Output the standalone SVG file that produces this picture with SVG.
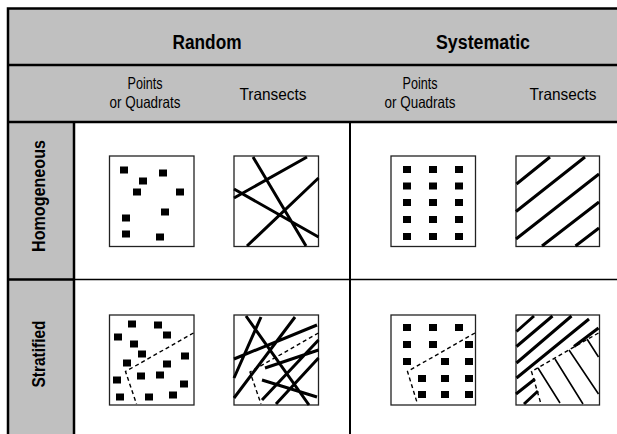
<svg xmlns="http://www.w3.org/2000/svg" width="617" height="434" viewBox="0 0 617 434">
<style>
.hdr{font-family:"Liberation Sans Narrow","Liberation Sans",sans-serif;font-weight:bold;fill:#000}
.sub{font-family:"Liberation Sans Narrow","Liberation Sans",sans-serif;fill:#000}
.box{fill:#fff;stroke:#222;stroke-width:1.3}
.tr{stroke:#000;stroke-width:3;fill:none}
.thin{stroke:#000;stroke-width:1.6;fill:none}
.dash{stroke:#000;stroke-width:1.4;fill:none;stroke-dasharray:4 3}
.grid{stroke:#000;fill:none}
</style>
<defs>
<rect id="sq" x="-4" y="-3.5" width="8" height="7" fill="#000"/>
</defs>
<rect x="0" y="0" width="617" height="434" fill="#fff"/>
<g id="table">
<rect x="8" y="8.5" width="609" height="113.5" fill="#c0c0c0"/>
<rect x="8" y="122" width="66" height="312" fill="#c0c0c0"/>
<path class="grid" stroke-width="2.5" d="M8,434 V8.5 H617 M8,65 H617 M8,122 H617 M74,122 V434 M8,279.5 H74"/>
<path class="grid" stroke-width="2" d="M350,122 V434"/>
<path class="grid" stroke-width="1.6" stroke="#222" d="M74,279.5 H617"/>
</g>
<g id="headers">
<text class="hdr" x="207" y="48.5" font-size="20" text-anchor="middle" textLength="69" lengthAdjust="spacingAndGlyphs">Random</text>
<text class="hdr" x="483" y="48.5" font-size="20" text-anchor="middle" textLength="94" lengthAdjust="spacingAndGlyphs">Systematic</text>
<text class="sub" x="145" y="89" font-size="16.5" text-anchor="middle" textLength="35" lengthAdjust="spacingAndGlyphs">Points</text>
<text class="sub" x="145" y="108" font-size="16.5" text-anchor="middle" textLength="71" lengthAdjust="spacingAndGlyphs">or Quadrats</text>
<text class="sub" x="273" y="100" font-size="16.5" text-anchor="middle" textLength="67" lengthAdjust="spacingAndGlyphs">Transects</text>
<text class="sub" x="420" y="89" font-size="16.5" text-anchor="middle" textLength="35" lengthAdjust="spacingAndGlyphs">Points</text>
<text class="sub" x="420" y="108" font-size="16.5" text-anchor="middle" textLength="71" lengthAdjust="spacingAndGlyphs">or Quadrats</text>
<text class="sub" x="563" y="100" font-size="16.5" text-anchor="middle" textLength="67" lengthAdjust="spacingAndGlyphs">Transects</text>
<text class="hdr" font-size="18" text-anchor="middle" transform="translate(45,196) rotate(-90)" textLength="112" lengthAdjust="spacingAndGlyphs">Homogeneous</text>
<text class="hdr" font-size="18" text-anchor="middle" transform="translate(45,354) rotate(-90)" textLength="67" lengthAdjust="spacingAndGlyphs">Stratified</text>
</g>
<g id="hom-random-points">
<rect class="box" x="109.5" y="156" width="84.5" height="90.5"/>
<use href="#sq" x="124" y="170"/><use href="#sq" x="163" y="173"/><use href="#sq" x="143" y="181"/>
<use href="#sq" x="137" y="192"/><use href="#sq" x="180" y="192"/><use href="#sq" x="165" y="212"/>
<use href="#sq" x="126" y="218"/><use href="#sq" x="126" y="234"/><use href="#sq" x="160" y="237"/>
</g>
<g id="hom-random-transects">
<rect class="box" x="234" y="156" width="84.5" height="90.5"/>
<path class="tr" d="M253,157 L306,246 M234,198 L307,157 M234,189 L318.5,237 M247,246 L318.5,178"/>
</g>
<g id="hom-systematic-points">
<rect class="box" x="391" y="156" width="84.5" height="90.5"/>
<use href="#sq" x="407" y="169.5"/><use href="#sq" x="433" y="169.5"/><use href="#sq" x="459" y="169.5"/>
<use href="#sq" x="407" y="186"/><use href="#sq" x="433" y="186"/><use href="#sq" x="459" y="186"/>
<use href="#sq" x="407" y="202.5"/><use href="#sq" x="433" y="202.5"/><use href="#sq" x="459" y="202.5"/>
<use href="#sq" x="407" y="219.5"/><use href="#sq" x="433" y="219.5"/><use href="#sq" x="459" y="219.5"/>
<use href="#sq" x="407" y="236.5"/><use href="#sq" x="433" y="236.5"/><use href="#sq" x="459" y="236.5"/>
</g>
<g id="hom-systematic-transects">
<rect class="box" x="516" y="156" width="83.5" height="90.5"/>
<path class="tr" stroke-width="2.5" d="M516.5,184 L550,157 M516,211.5 L585,157 M516,239 L599,174 M542,246 L599,202 M575.5,246 L599,228"/>
</g>
<g id="str-random-points">
<rect class="box" x="109.5" y="315" width="84.5" height="90"/>
<use href="#sq" x="132" y="324"/><use href="#sq" x="158" y="325"/><use href="#sq" x="118" y="337"/>
<use href="#sq" x="167" y="335"/><use href="#sq" x="134" y="344"/><use href="#sq" x="142" y="354"/>
<use href="#sq" x="185" y="356"/><use href="#sq" x="127" y="363"/><use href="#sq" x="167" y="364"/>
<use href="#sq" x="141" y="376"/><use href="#sq" x="160" y="375"/><use href="#sq" x="117" y="380"/>
<use href="#sq" x="184" y="384"/><use href="#sq" x="120" y="397"/><use href="#sq" x="149" y="397"/>
<use href="#sq" x="173" y="395"/>
<path class="dash" d="M193.5,333 L125.5,371.5 L136.5,404"/>
</g>
<g id="str-random-transects">
<rect class="box" x="234" y="315" width="84.5" height="90"/>
<path class="tr" d="M246,316 L309,405 M261,317 L234,378 M295,317 L234,398 M234,359 L317,325 M265,368 L318.5,350 M262,380 L317,397 M276,404 L318.5,358 M262,400 L318.5,340"/>
<path class="dash" d="M318.5,333 L250,372 L261,404"/>
</g>
<g id="str-systematic-points">
<rect class="box" x="391" y="315" width="84.5" height="90"/>
<use href="#sq" x="407" y="327.5"/><use href="#sq" x="433" y="327.5"/><use href="#sq" x="459" y="327.5"/>
<use href="#sq" x="407" y="344.5"/><use href="#sq" x="433" y="344.5"/><use href="#sq" x="469" y="344.5"/>
<use href="#sq" x="407" y="361.5"/><use href="#sq" x="445" y="361.5"/><use href="#sq" x="469" y="361.5"/>
<use href="#sq" x="422" y="378.5"/><use href="#sq" x="445" y="378.5"/><use href="#sq" x="469" y="378.5"/>
<use href="#sq" x="422" y="394.5"/><use href="#sq" x="445" y="394.5"/><use href="#sq" x="469" y="394.5"/>
<path class="dash" d="M475,333 L407.5,371.5 L417.5,404"/>
</g>
<g id="str-systematic-transects">
<rect class="box" x="516" y="315" width="83.5" height="90"/>
<path class="tr" stroke-width="2.5" d="M516.5,331.5 L534,316 M516.5,346.5 L552.5,316 M516.5,363 L571.5,316 M516.5,378 L589,319 M574,346.5 L598.5,328 M516,394 L535,379 M524,404 L538,391"/>
<path class="thin" d="M538,368 L560,403 M555,359 L583,404 M569,350 L598.5,394 M587,339 L598.5,357"/>
<path class="dash" d="M598.5,333 L531.5,371.5 L541,404"/>
</g>
</svg>
